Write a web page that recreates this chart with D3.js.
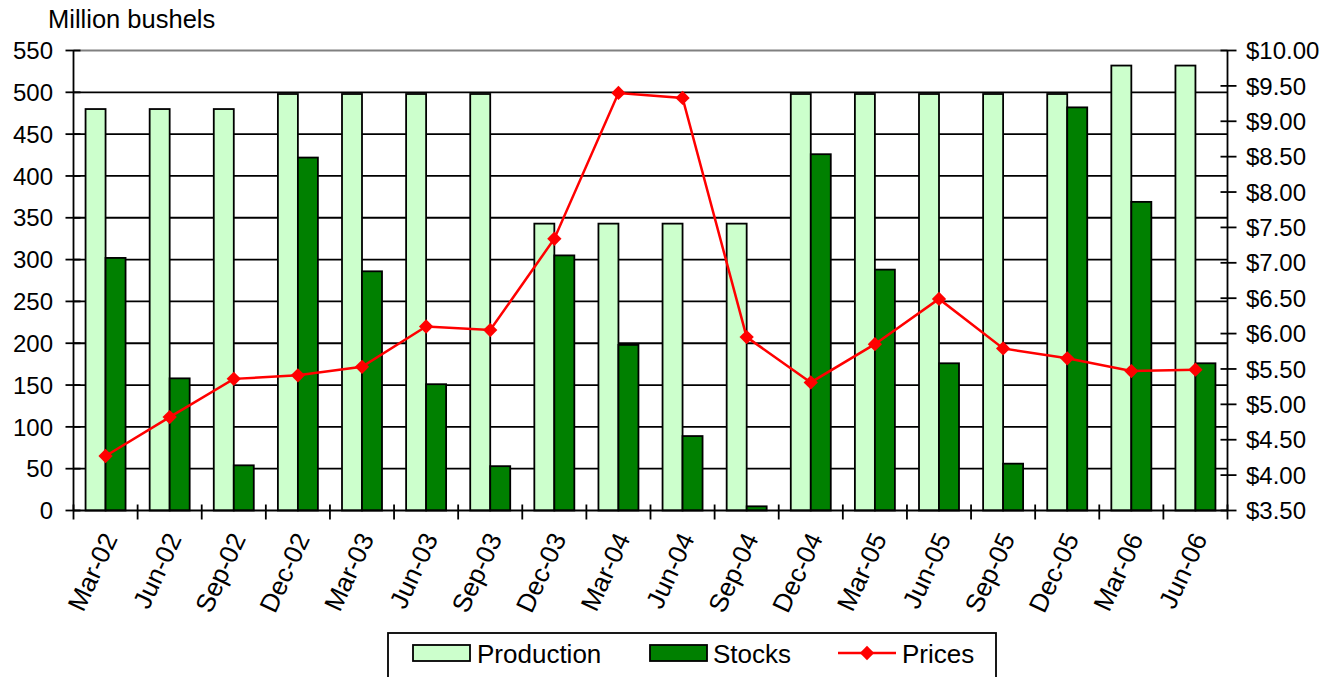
<!DOCTYPE html>
<html><head><meta charset="utf-8">
<script src="https://cdn.jsdelivr.net/npm/d3@7"></script>
<style>body{margin:0;background:#fff}svg{display:block}text{font-family:"Liberation Sans",Arial,sans-serif;fill:#000}</style>
</head><body><svg id="c" width="1338" height="677"></svg>
<script>
const categories=["Mar-02","Jun-02","Sep-02","Dec-02","Mar-03","Jun-03","Sep-03","Dec-03","Mar-04","Jun-04","Sep-04","Dec-04","Mar-05","Jun-05","Sep-05","Dec-05","Mar-06","Jun-06"];
const production=[480,480,480,498,498,498,498,343,343,343,343,498,498,498,498,498,532,532];
const stocks=[302,158,54,422,286,151,53,305,198,89,5,426,288,176,56,482,369,176];
const prices=[4.27,4.82,5.36,5.41,5.53,6.10,6.05,7.34,9.40,9.33,5.95,5.31,5.85,6.49,5.79,5.65,5.47,5.49];
const leftTicks=[0,50,100,150,200,250,300,350,400,450,500,550];
const rightTicks=[3.5,4,4.5,5,5.5,6,6.5,7,7.5,8,8.5,9,9.5,10];
const seriesNames=["Production","Stocks","Prices"];
const colors={Production:"#ccffcc",Stocks:"#008000",Prices:"#ff0000"};

const svg=d3.select("#c");
const L=73.5,R=1227.5,T=50.5,B=510.5;
const x=d3.scaleBand().domain(categories).range([L,R]);
const bw=x.bandwidth();
const off=(bw-40)/2;
const xi=d3.scaleBand().domain(["Production","Stocks"]).range([off,bw-off]);
const y=d3.scaleLinear().domain([0,550]).range([B,T]);
const y2=d3.scaleLinear().domain([3.5,10]).range([B,T]);

// gridlines
svg.append("g").selectAll("line").data(leftTicks.filter(d=>d>0)).join("line")
 .attr("x1",L).attr("x2",R).attr("y1",d=>y(d)).attr("y2",d=>y(d))
 .attr("stroke",d=>d===550?"#808080":"#000").attr("stroke-width",1.8);

// bars
const g=svg.append("g");
g.selectAll("rect.p").data(production).join("rect").attr("class","p")
 .attr("x",(d,i)=>x(categories[i])+xi("Production")).attr("width",xi.bandwidth())
 .attr("y",d=>y(d)).attr("height",d=>B-y(d))
 .attr("fill",colors.Production).attr("stroke","#000").attr("stroke-width",1.8);
g.selectAll("rect.s").data(stocks).join("rect").attr("class","s")
 .attr("x",(d,i)=>x(categories[i])+xi("Stocks")).attr("width",xi.bandwidth())
 .attr("y",d=>y(d)).attr("height",d=>B-y(d))
 .attr("fill",colors.Stocks).attr("stroke","#000").attr("stroke-width",1.8);

// axes
const ax=svg.append("g").attr("stroke","#000").attr("stroke-width",1.8);
ax.append("line").attr("x1",L).attr("x2",L).attr("y1",T).attr("y2",B);
ax.append("line").attr("x1",R).attr("x2",R).attr("y1",T).attr("y2",B);
ax.append("line").attr("x1",L).attr("x2",R).attr("y1",B).attr("y2",B);
ax.selectAll("line.lt").data(leftTicks).join("line").attr("class","lt")
 .attr("x1",L-8).attr("x2",L+7).attr("y1",d=>y(d)).attr("y2",d=>y(d));
ax.selectAll("line.rt").data(rightTicks).join("line").attr("class","rt")
 .attr("x1",R-7).attr("x2",R+9).attr("y1",d=>y2(d)).attr("y2",d=>y2(d));
const bounds=categories.map(c=>x(c)).concat([R]);
ax.selectAll("line.bt").data(bounds).join("line").attr("class","bt")
 .attr("x1",d=>d).attr("x2",d=>d).attr("y1",B-6).attr("y2",B+9);

// tick labels
svg.append("g").selectAll("text").data(leftTicks).join("text")
 .attr("x",53).attr("y",d=>y(d)).attr("dy","0.36em").attr("text-anchor","end")
 .attr("font-size",24).text(d=>d);
const fmt=d3.format("$.2f");
svg.append("g").selectAll("text").data(rightTicks).join("text")
 .attr("x",1246).attr("y",d=>y2(d)).attr("dy","0.36em").attr("text-anchor","start")
 .attr("font-size",24).text(d=>fmt(d));
svg.append("g").selectAll("text").data(categories).join("text")
 .attr("transform",d=>`translate(${x(d)+bw/2+4},${B+24}) rotate(-65)`)
 .attr("text-anchor","end").attr("dy","0.36em").attr("font-size",26).text(d=>d);

svg.append("text").attr("x",48).attr("y",28).attr("font-size",25.5).text("Million bushels");

// price line
const line=d3.line().x((d,i)=>x(categories[i])+bw/2).y(d=>y2(d));
svg.append("path").datum(prices).attr("d",line).attr("fill","none")
 .attr("stroke",colors.Prices).attr("stroke-width",2.5);
const dia=d3.symbol().type(d3.symbolDiamond2).size(130);
svg.append("g").selectAll("path").data(prices).join("path")
 .attr("transform",(d,i)=>`translate(${x(categories[i])+bw/2},${y2(d)})`)
 .attr("d",dia()).attr("fill",colors.Prices);

// legend
const lg=svg.append("g");
lg.append("rect").attr("x",388).attr("y",633).attr("width",608).attr("height",60)
 .attr("fill","#fff").attr("stroke","#000").attr("stroke-width",1.8);
const items=[{n:"Production",sx:413,tx:477},{n:"Stocks",sx:650,tx:713},{n:"Prices",sx:838,tx:902}];
items.forEach(it=>{
 if(it.n!=="Prices"){
  lg.append("rect").attr("x",it.sx).attr("y",645).attr("width",57).attr("height",16)
   .attr("fill",colors[it.n]).attr("stroke","#000").attr("stroke-width",1.8);
 } else {
  lg.append("line").attr("x1",it.sx).attr("x2",it.sx+58).attr("y1",653).attr("y2",653)
   .attr("stroke",colors.Prices).attr("stroke-width",2.5);
  lg.append("path").attr("transform",`translate(${it.sx+29},653)`).attr("d",dia()).attr("fill",colors.Prices);
 }
 lg.append("text").attr("x",it.tx).attr("y",663).attr("font-size",26).text(it.n);
});
</script></body></html>
